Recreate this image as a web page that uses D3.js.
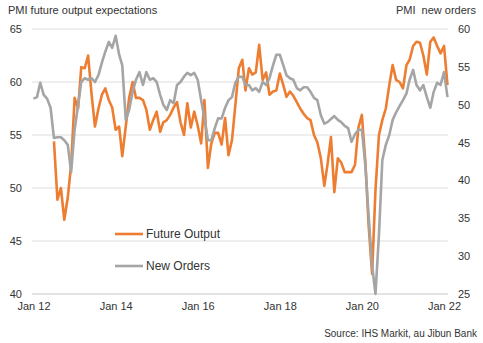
<!DOCTYPE html>
<html><head><meta charset="utf-8">
<script src="https://cdn.jsdelivr.net/npm/d3@7"></script>
<style>
html,body{margin:0;padding:0;background:#fff;}
svg{display:block;font-family:"Liberation Sans",Arial,sans-serif;}
</style></head>
<body><svg id="c" width="483" height="343"></svg>
<script>
const startYear = 2012, startMonth = 0;
const xTickLabels = ["Jan 12","Jan 14","Jan 16","Jan 18","Jan 20","Jan 22"];
const leftTicks = [40,45,50,55,60,65];
const rightTicks = [25,30,35,40,45,50,55,60];
const seriesNames = ["Future Output","New Orders"];

// Future output expectations (left axis), monthly from Jan 2012, starts Jul 2012
const futureOutput = [
 null,null,null,null,null,null,54.4,48.9,50.0,47.0,49.1,52.2,
 58.5,57.5,61.4,61.3,62.5,58.8,55.8,57.5,58.8,59.4,58.3,57.6,
 55.5,55.8,53.0,55.8,58.5,60.0,58.5,58.5,58.3,57.4,55.5,56.4,
 57.2,55.3,56.2,56.4,56.9,57.6,58.1,56.2,55.0,58.0,55.7,57.2,
 55.9,54.2,58.3,51.9,54.2,55.2,55.2,54.1,56.6,53.1,54.5,57.8,
 61.3,62.1,59.2,61.3,60.7,60.9,63.5,60.2,60.9,58.8,59.1,59.2,
 60.8,59.7,58.6,59.1,58.7,58.1,57.5,57.0,56.6,56.4,55.0,54.3,
 52.8,50.2,52.2,54.8,49.6,52.8,52.4,51.5,51.5,51.5,52.2,55.7,
 56.9,52.5,46.5,41.9,49.8,55.0,56.4,57.5,59.7,61.6,60.2,60.0,
 59.4,61.6,62.1,63.4,63.8,63.7,62.5,60.7,63.8,64.2,63.4,62.7,
 63.4,59.7
];
// New orders (right axis)
const newOrders = [
 50.8,51.0,52.9,51.3,50.8,49.6,45.6,45.7,45.7,45.3,44.7,41.1,
 46.7,50.0,53.0,53.5,53.3,53.5,53.0,53.9,55.6,57.0,58.3,57.5,
 59.1,56.6,55.2,48.0,49.3,51.7,53.3,54.3,52.6,54.3,53.3,53.5,
 53.0,51.3,50.0,49.3,50.6,50.2,52.6,53.0,53.7,54.2,53.9,54.2,
 53.3,50.6,48.2,45.3,45.3,46.9,48.2,48.2,49.6,50.6,51.0,52.9,
 53.7,53.7,52.6,52.6,51.9,52.2,51.7,53.0,52.6,53.5,55.2,56.6,
 56.6,55.2,53.9,53.5,53.3,52.2,51.9,52.3,52.3,51.7,50.9,50.6,
 48.6,47.5,47.7,48.1,48.5,48.0,47.7,47.2,46.9,45.1,46.1,46.7,
 46.7,42.0,35.4,28.8,25.0,32.8,42.7,44.7,46.0,48.0,49.0,49.8,
 50.6,51.5,53.3,54.6,52.6,51.9,52.6,51.0,49.6,51.7,52.9,52.6,
 54.3,51.0
];

const dates = newOrders.map((_, i) => new Date(startYear, startMonth + i, 1));
const svg = d3.select("#c");
const textColor = "#333";
const plotL = 32, plotR = 448, plotT = 29, plotB = 294;

const x = d3.scaleTime().domain([dates[0], dates[dates.length-1]]).range([33.5, 447.5]);
const yL = d3.scaleLinear().domain([40,65]).range([plotB, plotT]);
const yR = d3.scaleLinear().domain([25,60]).range([plotB, plotT]);

// gridlines
svg.append("g").selectAll("line").data(leftTicks).join("line")
  .attr("x1", plotL).attr("x2", plotR)
  .attr("y1", d => yL(d)).attr("y2", d => yL(d))
  .attr("stroke", d => d === 40 ? "#c8c8c8" : "#dedede").attr("stroke-width", 1);

// left axis labels
const axL = d3.axisLeft(yL).tickValues(leftTicks).tickSize(0).tickPadding(0);
const gL = svg.append("g").attr("transform", "translate(22,0)").call(axL);
gL.select(".domain").remove();
gL.selectAll("text").attr("font-size", 11).attr("fill", textColor).attr("font-family", "Liberation Sans, Arial, sans-serif");

// right axis labels
const axR = d3.axisRight(yR).tickValues(rightTicks).tickSize(0).tickPadding(0);
const gR = svg.append("g").attr("transform", "translate(458,0)").call(axR);
gR.select(".domain").remove();
gR.selectAll("text").attr("font-size", 11).attr("fill", textColor).attr("font-family", "Liberation Sans, Arial, sans-serif");

// x axis labels
const xTickDates = xTickLabels.map((_, i) => new Date(startYear + 2*i, 0, 1));
const axX = d3.axisBottom(x).tickValues(xTickDates).tickSize(0).tickPadding(0)
  .tickFormat((d, i) => xTickLabels[i]);
const gX = svg.append("g").attr("transform", "translate(0,302)").call(axX);
gX.select(".domain").remove();
gX.selectAll("text").attr("font-size", 11).attr("fill", textColor).attr("font-family", "Liberation Sans, Arial, sans-serif");

// lines
const orange = "#ED7D31", gray = "#A5A5A5";
const lineL = d3.line().defined(d => d[1] != null).x(d => x(d[0])).y(d => yL(d[1]));
const lineR = d3.line().x(d => x(d[0])).y(d => yR(d[1]));
svg.append("path").datum(dates.map((d,i)=>[d, futureOutput[i]]))
  .attr("d", lineL).attr("fill","none").attr("stroke", orange).attr("stroke-width", 2.6).attr("stroke-linejoin","round");
svg.append("path").datum(dates.map((d,i)=>[d, newOrders[i]]))
  .attr("d", lineR).attr("fill","none").attr("stroke", gray).attr("stroke-width", 2.6).attr("stroke-linejoin","round");

// titles
svg.append("text").attr("x", 8).attr("y", 14).attr("font-size", 11).attr("fill", textColor)
  .text("PMI future output expectations");
svg.append("text").attr("x", 476).attr("y", 14).attr("font-size", 11).attr("fill", textColor)
  .attr("text-anchor","end").style("white-space","pre").text("PMI  new orders");

// legend
const legend = svg.append("g");
[[orange, 234],[gray, 266]].forEach(([c, ly], i) => {
  legend.append("line").attr("x1", 115).attr("x2", 143).attr("y1", ly).attr("y2", ly)
    .attr("stroke", c).attr("stroke-width", 2.6);
  legend.append("text").attr("x", 146).attr("y", ly).attr("dy", "0.35em")
    .attr("font-size", 12).attr("fill", textColor).text(seriesNames[i]);
});

// source
svg.append("text").attr("x", 477).attr("y", 337).attr("font-size", 10).attr("fill", textColor)
  .attr("text-anchor","end").text("Source: IHS Markit, au Jibun Bank");
</script></body></html>
